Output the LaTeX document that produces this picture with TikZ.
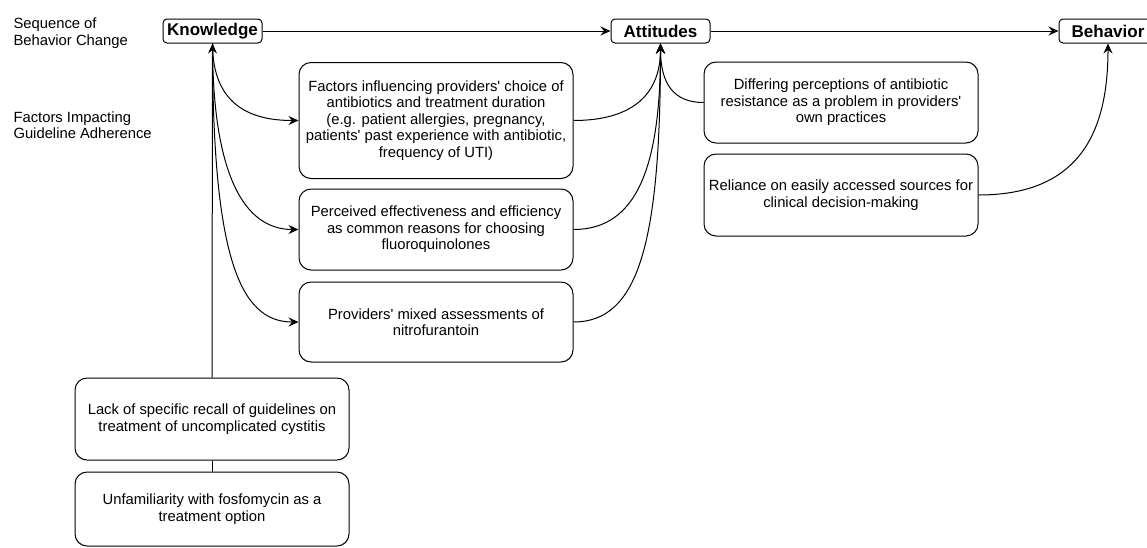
\documentclass[tikz,border=0pt]{standalone}
\usepackage{fontspec}
\setmainfont{Liberation Sans}
\usetikzlibrary{arrows.meta,calc}
\newcommand{\ap}{\textquotesingle}
\begin{document}
\begin{tikzpicture}[x=1pt,y=-1pt, line width=1pt,
 box/.style={draw, rounded corners=12pt, align=center, font=\fontsize{14.8}{16.4}\selectfont, inner sep=0pt, minimum width=274pt},
 ttl/.style={draw, rounded corners=4pt, font=\fontsize{17}{20}\selectfont\bfseries, inner sep=0pt, minimum height=24pt},
 lbl/.style={anchor=west, align=left, font=\fontsize{14.8}{16.4}\selectfont, inner sep=0pt},
 arr/.style={-{Stealth[length=10pt,width=9pt,inset=3.5pt]}}
]
\useasboundingbox (0,0) rectangle (1147,547);
\node[lbl] (l1) at (13,33) {Sequence of\\Behavior Change};
\node[lbl] (l2) at (13,125) {Factors Impacting\\Guideline Adherence};

\node[ttl, minimum width=99pt] (know) at (212.5,31) {Knowledge};
\node[ttl, minimum width=99pt] (att) at (660.5,31) {Attitudes};
\node[ttl, minimum width=98pt] (beh) at (1108,31) {Behavior};

\node[box, minimum height=116pt] (b1) at (436,120.5) {Factors influencing providers\ap{} choice of\\antibiotics and treatment duration\\(e.g. patient allergies, pregnancy,\\patients\ap{} past experience with antibiotic,\\frequency of UTI)};
\node[box, minimum height=81pt] (b2) at (436,229.5) {Perceived effectiveness and efficiency\\as common reasons for choosing\\fluoroquinolones};
\node[box, minimum height=80pt] (b3) at (436,322) {Providers\ap{} mixed assessments of\\nitrofurantoin};
\node[box, minimum height=81pt] (b4) at (841,102.5) {Differing perceptions of antibiotic\\resistance as a problem in providers\ap{}\\own practices};
\node[box, minimum height=82pt] (b5) at (841,195) {Reliance on easily accessed sources for\\clinical decision-making};
\node[box, minimum height=82pt] (b6) at (212,419) {Lack of specific recall of guidelines on\\treatment of uncomplicated cystitis};
\node[box, minimum height=74pt] (b7) at (212,509) {Unfamiliarity with fosfomycin as a\\treatment option};

\draw[arr] (know.east) -- (att.west);
\draw[arr] (att.east) -- (beh.west);
\draw[arr] (b6.north) -- (know.south);
\draw (b7.north) -- (b6.south);

\draw[arr] (know.south) .. controls +(0,60) and +(-50,0) .. (b1.west);
\draw[arr] (know.south) .. controls +(0,130) and +(-55,0) .. (b2.west);
\draw[arr] (know.south) .. controls +(0,210) and +(-60,0) .. (b3.west);

\draw[arr] (b1.east) .. controls +(60,0) and +(0,50) .. (att.south);
\draw[arr] (b2.east) .. controls +(65,0) and +(0,120) .. (att.south);
\draw[arr] (b3.east) .. controls +(65,0) and +(0,200) .. (att.south);
\draw[arr] (b4.west) .. controls +(-30,0) and +(0,40) .. (att.south);

\draw[arr] (b5.east) .. controls +(100,0) and +(0,90) .. (beh.south);
\end{tikzpicture}
\end{document}
